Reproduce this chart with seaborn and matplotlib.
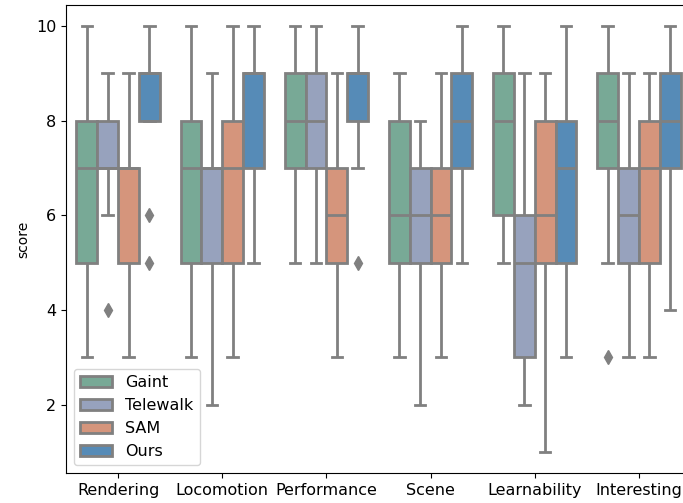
import pandas as pd
import numpy as np
import matplotlib
matplotlib.use('Agg')
import matplotlib.pyplot as plt
import seaborn as sns

# categories on the x axis and the four compared methods
categories = ['Rendering', 'Locomotion', 'Performance', 'Scene', 'Learnability', 'Interesting']
methods = ['Gaint', 'Telewalk', 'SAM', 'Ours']

# per-method scores, one list of ratings per category (same order as categories)
gaint_scores = [
    [3, 4, 5, 6, 7, 7, 8, 9, 10],
    [3, 4, 5, 6, 7, 7, 8, 9, 10],
    [5, 6, 7, 8, 8, 8, 9, 9, 10],
    [3, 4, 5, 6, 6, 7, 8, 8, 9],
    [5, 5, 6, 7, 8, 8, 9, 10, 10],
    [3, 5, 7, 8, 8, 8, 9, 9, 10],
]
telewalk_scores = [
    [4, 6, 7, 7, 7, 8, 8, 8, 9],
    [2, 4, 5, 6, 7, 7, 7, 8, 9],
    [5, 6, 7, 7, 8, 9, 9, 10, 10],
    [2, 4, 5, 6, 6, 6, 7, 8, 8],
    [2, 3, 3, 4, 5, 5, 6, 8, 9],
    [3, 4, 5, 6, 6, 6, 7, 8, 9],
]
sam_scores = [
    [3, 4, 5, 6, 7, 7, 7, 8, 9],
    [3, 4, 5, 6, 7, 7, 8, 9, 10],
    [3, 4, 5, 6, 6, 6, 7, 8, 9],
    [3, 4, 5, 6, 6, 6, 7, 8, 9],
    [1, 3, 5, 6, 6, 7, 8, 8, 9],
    [3, 4, 5, 6, 7, 7, 8, 8, 9],
]
ours_scores = [
    [5, 6, 8, 8, 9, 9, 9, 10, 10],
    [5, 6, 7, 8, 9, 9, 9, 10, 10],
    [5, 7, 8, 8, 9, 9, 9, 10, 10],
    [5, 6, 7, 8, 8, 8, 9, 9, 10],
    [3, 4, 5, 6, 7, 7, 8, 9, 10],
    [4, 6, 7, 8, 8, 8, 9, 9, 10],
]

# muted box colours as they appear in the figure
colors = ['#78a996', '#97a2bd', '#d5957c', '#568bb7']

# long-form table for seaborn
rows = []
for method, scores in zip(methods, [gaint_scores, telewalk_scores, sam_scores, ours_scores]):
    for cat, vals in zip(categories, scores):
        for v in vals:
            rows.append({'category': cat, 'method': method, 'score': v})
df = pd.DataFrame(rows)

fig = plt.figure(figsize=(6.83, 5.03), dpi=100)
ax = fig.add_axes([66 / 683, 0.059, 625 / 683, 0.9316])

sns.boxplot(data=df, x='category', y='score', hue='method',
            order=categories, hue_order=methods, palette=colors,
            saturation=1, linewidth=2, linecolor='#808080',
            flierprops=dict(marker='d', markerfacecolor='#808080',
                            markeredgecolor='#808080', markersize=7),
            ax=ax)

ax.set_xlabel('')
ax.set_ylabel('score', fontsize=10)
ax.tick_params(labelsize=11.5)
sns.move_legend(ax, 'lower left', title=None, fontsize=11.5)

fig.savefig('out.png', dpi=100)
